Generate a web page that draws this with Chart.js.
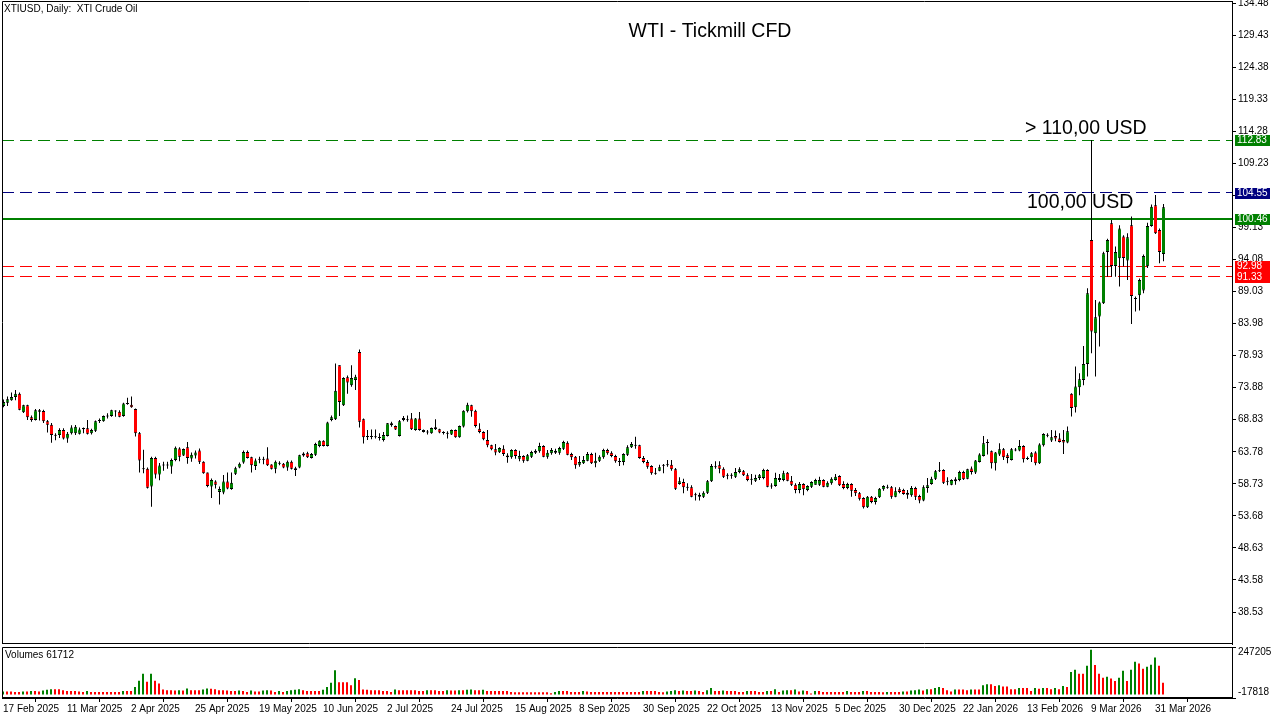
<!DOCTYPE html>
<html>
<head>
<meta charset="utf-8">
<script src="https://cdn.jsdelivr.net/npm/chart.js@4.4.1/dist/chart.umd.min.js"></script>
<style>
html, body { margin: 0; padding: 0; background: #fff; width: 1280px; height: 720px; overflow: hidden; }
#main { position: absolute; left: 0; top: 0; }
#vol { position: absolute; left: 0; top: 645px; }
</style>
</head>
<body>
<canvas id="main" width="1280" height="645"></canvas>
<canvas id="vol" width="1280" height="75"></canvas>
<script>
// XTIUSD daily candles, 17 Feb 2025 .. early Apr 2026 (one entry per bar)
var open = [71.0,71.5,71.9,72.4,72.9,70.0,71.1,69.2,68.8,70.1,
70.2,68.6,68.05,66.4,66.4,67.2,65.85,66.7,66.7,66.6,
67.4,67.5,66.7,67.1,68.7,68.6,69.4,69.4,70.2,70.1,
69.4,71.4,71.2,70.5,66.7,61.1,61.1,58.3,62.8,60.2,
61.65,61.65,61.45,62.5,64.3,63.2,64.5,62.7,63.2,63.96,
62.2,60.5,58.3,59.1,57.45,57.35,59.1,57.9,60.3,61.3,
62.1,63.75,62.9,61.55,62.6,62.6,62.7,61.76,61.1,61.97,
61.9,61.3,62.2,61.2,61.3,63.2,63.54,62.8,63.3,64.7,
65.5,64.7,68.8,68.9,77.4,71.1,75.5,74.25,75.1,79.5,
68.9,66.17,66.17,66.17,66.06,65.64,66.27,68.27,67.85,66.27,
68.8,68.8,69.0,67.22,69.0,67.22,66.9,66.7,67.64,67.32,
66.8,66.7,66.48,67.22,66.06,67.74,70.16,71.1,70.26,67.4,
66.9,65.64,64.8,64.17,63.7,64.27,63.2,62.9,64.06,62.69,
63.11,62.38,63.0,63.64,63.85,64.69,63.01,63.53,63.64,63.64,
64.27,65.21,63.43,63.01,61.75,61.96,62.38,63.43,61.96,62.38,
62.9,64.06,63.64,63.11,62.27,62.17,63.32,64.48,64.79,64.79,
62.8,62.17,61.54,60.38,60.8,61.64,61.75,61.75,61.01,58.7,
59.02,58.18,58.18,57.02,57.02,56.71,57.34,59.12,61.43,61.64,
61.12,60.07,60.07,59.86,60.59,60.7,60.07,59.44,59.22,59.65,
59.65,60.91,58.38,58.38,59.33,59.33,60.49,59.22,58.59,57.76,
58.7,57.76,58.28,58.59,58.59,59.33,58.28,58.8,59.33,59.96,
58.7,58.07,58.7,57.76,57.23,56.5,55.03,56.71,55.87,56.6,
57.86,58.17,58.17,56.71,57.86,57.76,57.02,56.92,58.07,56.81,
56.08,58.07,58.7,59.54,60.8,60.91,59.12,58.59,59.12,59.33,
60.59,59.54,61.13,60.5,62.18,63.12,65.22,63.86,61.97,63.33,
64.17,63.23,62.49,64.07,63.96,64.7,62.7,62.91,63.65,61.97,
64.8,66.38,65.54,66.27,65.85,65.64,65.22,72.9,70.8,73.95,
75.1,77.62,97.15,82.45,85.08,87.18,95.26,99.78,93.06,94.26,
97.68,93.9,99.46,87.91,88.44,89.17,93.0,99.36,102.61,98.73,94.95];

var high = [72.0,72.5,73.1,73.5,73.1,71.2,71.2,69.5,70.5,70.5,
70.4,68.8,68.3,66.7,67.5,67.5,66.9,67.95,68.0,67.6,
67.6,68.8,67.4,68.7,69.0,69.5,69.85,70.4,70.3,70.3,
71.5,72.3,72.5,70.6,66.9,64.1,61.3,63.0,63.0,62.0,
62.2,62.2,62.7,64.6,64.5,64.3,65.3,63.65,63.96,64.3,
62.3,60.5,59.55,59.3,58.3,60.1,60.5,60.5,61.4,62.1,
63.96,63.96,63.0,62.7,63.0,63.0,64.5,61.8,62.4,62.3,
62.0,62.4,62.4,61.4,63.3,63.7,63.8,63.6,65.2,65.6,
65.6,68.5,69.5,77.7,77.4,75.5,75.8,77.4,75.9,79.9,
69.0,67.2,67.3,67.3,66.7,66.9,68.3,68.5,67.9,68.8,
69.4,69.5,69.9,69.1,70.05,67.3,67.22,67.6,68.9,67.4,
67.0,67.0,67.3,67.3,67.9,70.3,71.5,71.2,70.4,68.27,
67.0,67.2,64.9,65.0,64.5,64.79,63.53,64.16,64.16,63.95,
63.22,63.43,63.95,64.16,65.21,64.79,64.06,64.37,64.27,64.58,
65.53,65.42,63.64,63.11,63.11,63.11,63.74,63.64,63.64,63.22,
64.27,64.27,63.85,63.32,62.8,63.53,64.79,65.32,66.16,64.9,
63.11,62.48,61.64,61.22,61.75,61.85,62.48,62.48,61.22,59.75,
59.54,58.81,58.49,57.34,57.34,57.55,59.33,61.85,62.27,62.27,
61.33,60.38,60.38,61.22,61.33,60.91,60.38,60.28,60.17,60.28,
61.12,61.01,58.8,60.49,60.28,60.8,60.59,59.96,58.8,59.01,
58.8,58.49,59.12,59.54,59.86,59.44,59.12,59.75,60.28,60.07,
59.12,58.91,58.8,58.07,57.44,56.6,56.81,56.81,56.71,58.07,
58.49,58.59,58.38,58.17,58.17,57.97,57.76,58.38,58.28,57.02,
58.49,59.65,59.86,60.91,62.17,61.01,59.75,59.44,59.75,60.8,
60.8,61.12,61.44,62.49,63.54,66.27,65.75,63.96,63.75,65.12,
64.38,63.54,64.38,64.38,65.64,64.8,63.02,63.75,63.86,65.12,
66.69,66.69,67.22,67.11,66.69,67.22,67.74,73.0,77.2,76.15,
80.46,89.54,112.9,87.7,87.44,95.31,97.36,100.3,96.1,99.46,
97.89,98.2,100.83,88.23,91.06,94.84,99.88,102.72,104.24,98.94,102.82];

var low = [70.8,71.0,71.8,71.9,70.3,69.9,68.8,68.5,68.7,68.7,
68.3,66.8,65.2,65.6,65.95,65.7,65.2,66.5,66.4,66.5,
66.7,66.5,66.5,66.9,68.3,68.5,69.0,69.3,69.3,69.2,
69.3,71.2,70.7,66.2,60.5,60.4,58.0,55.1,59.55,59.3,
60.8,61.1,60.3,62.3,62.3,63.1,61.9,62.2,62.7,61.86,
60.3,58.2,56.5,57.98,55.46,57.1,57.87,57.8,60.1,61.2,
61.9,62.7,60.5,60.9,61.97,61.8,61.55,61.0,60.4,61.65,
61.2,60.8,61.0,59.97,61.2,63.0,62.8,62.7,63.1,64.5,
64.6,64.6,68.6,68.8,69.4,71.0,72.9,74.04,73.5,67.6,
65.1,65.64,65.75,65.85,65.54,65.4,66.2,67.7,67.2,66.2,
68.6,68.5,67.2,67.1,67.1,66.8,66.5,66.6,67.2,66.7,
66.5,65.85,66.4,66.0,66.0,67.6,69.95,69.3,67.6,66.69,
65.6,64.49,64.0,63.23,63.6,63.11,62.06,62.69,62.69,62.27,
62.06,62.27,62.8,63.43,63.64,62.9,62.69,63.32,63.43,63.32,
64.06,63.22,62.48,61.12,61.43,61.85,62.27,61.85,61.33,62.17,
62.69,63.32,62.9,62.06,61.54,61.64,63.11,64.37,64.27,62.69,
61.96,61.12,60.17,60.17,60.7,60.38,61.43,60.8,57.76,58.6,
57.23,57.65,56.6,56.08,56.08,56.5,57.13,59.02,61.12,60.38,
59.65,59.44,59.54,59.65,60.38,59.96,59.12,58.59,59.01,59.33,
59.44,58.17,57.97,58.28,59.01,59.12,59.12,58.38,57.23,57.23,
56.92,57.55,58.07,58.59,58.38,58.17,58.17,58.59,59.22,58.38,
57.86,57.86,56.71,56.81,56.08,54.82,54.92,55.66,55.45,56.5,
57.65,57.97,56.39,56.6,57.23,57.02,56.39,56.71,56.18,55.66,
55.97,57.34,58.59,59.33,60.59,58.7,58.49,58.49,58.59,59.12,
59.33,59.44,60.18,60.29,62.07,63.02,63.33,61.13,60.81,63.12,
62.49,61.97,62.39,63.86,63.86,62.07,62.49,62.18,61.65,61.86,
64.59,66.06,65.33,65.43,65.22,63.44,65.12,69.33,69.96,72.69,
74.26,75.63,79.3,75.63,80.35,87.07,91.37,91.37,91.37,89.8,
92.95,90.85,83.92,85.86,86.02,88.75,92.74,99.25,98.1,93.48,93.79];

var close = [71.6,72.05,72.4,72.9,70.4,71.1,69.2,68.8,70.3,70.3,
68.6,68.05,66.4,66.35,67.2,65.85,66.6,67.6,67.7,67.3,
67.45,66.6,67.2,68.6,68.7,69.4,69.4,70.3,70.2,69.3,
71.4,71.4,70.8,66.7,62.4,61.1,58.1,62.8,60.2,61.6,
61.7,61.7,62.5,64.4,63.0,64.2,62.8,63.3,63.65,62.2,
60.4,58.4,59.34,58.6,57.9,59.1,57.98,58.9,61.2,61.9,
63.75,62.8,61.65,62.4,62.6,62.6,61.65,61.1,62.2,61.97,
61.3,62.2,61.1,60.9,63.23,63.5,62.9,63.44,65.0,65.5,
64.7,68.37,69.2,73.4,71.6,75.4,74.7,75.4,75.6,68.5,
66.06,66.17,66.17,66.1,66.0,66.4,68.27,67.95,67.3,68.58,
69.1,68.85,67.32,69.0,67.22,66.9,66.85,67.53,67.32,66.8,
66.8,66.7,67.22,66.06,67.85,70.26,71.2,70.16,67.85,66.9,
65.75,64.8,64.17,63.65,64.38,63.43,62.9,64.06,63.11,63.11,
62.38,63.22,63.74,63.95,64.69,63.01,63.64,64.06,63.95,64.37,
65.32,63.32,62.9,61.64,62.17,62.48,63.43,61.96,62.38,63.01,
64.06,63.53,63.11,62.27,62.22,63.43,64.48,65.0,64.79,62.8,
62.17,61.43,60.38,60.38,61.33,61.64,61.75,61.01,57.97,59.12,
58.18,58.18,56.71,57.02,56.71,57.34,59.12,61.54,61.43,61.12,
59.86,60.07,60.07,60.59,61.01,60.07,59.33,59.44,59.65,60.07,
60.91,58.28,58.38,59.65,59.65,60.38,59.22,58.59,57.76,58.7,
57.86,58.38,59.01,59.33,59.33,58.28,58.91,59.54,59.86,58.49,
58.07,58.7,57.65,57.23,56.39,55.03,56.71,55.87,56.5,57.97,
58.38,58.17,56.71,57.55,57.44,57.13,57.34,58.07,56.71,56.08,
58.17,58.49,59.54,60.7,60.8,58.91,59.12,59.33,59.44,60.59,
59.44,61.01,60.6,62.39,63.33,65.12,65.22,61.97,63.65,64.17,
62.91,62.81,64.17,64.07,64.7,62.6,62.7,63.54,61.97,64.91,
66.59,66.38,66.06,65.85,65.33,65.22,67.0,70.69,74.05,75.21,
77.62,88.75,82.71,84.97,87.28,95.05,97.15,93.06,95.26,98.94,
94.32,97.57,88.33,87.91,90.85,94.63,99.36,102.4,98.2,95.26,102.3];

// tick volume per bar, in thousands
var volumeK = [16,16,16,14,14,16,16,18,18,16,
21,25,28,28,28,23,19,18,18,16,
14,18,14,14,14,14,14,14,14,14,
18,18,18,39,72,108,67,108,72,57,
27,23,23,21,23,21,32,23,23,23,
27,32,30,28,23,23,21,19,19,21,
19,14,21,16,16,21,23,21,14,19,
14,18,23,25,28,23,18,18,18,18,
25,39,62,127,64,64,64,49,85,76,
27,25,23,23,23,19,19,14,27,23,
23,23,23,23,19,19,23,23,23,19,
19,23,21,21,23,23,25,27,23,23,
25,19,19,18,18,18,18,14,12,12,
12,12,12,12,12,12,12,7,14,18,
18,18,14,14,14,18,16,14,14,14,
14,14,14,14,14,14,14,14,14,14,
18,18,18,18,14,12,16,19,23,18,
21,19,18,21,18,14,23,34,18,18,
21,18,18,18,14,14,18,18,18,14,
14,18,18,28,14,21,23,23,27,16,
21,18,5,18,18,14,14,14,14,14,
14,18,14,14,14,19,18,14,14,14,
12,14,14,14,14,16,16,21,23,27,
21,28,28,34,39,34,23,16,27,27,
27,23,27,27,27,48,53,53,44,48,
42,42,28,28,34,34,34,18,34,30,
34,34,28,34,28,44,39,117,129,108,
108,150,233,154,108,87,92,83,71,87,
124,71,129,171,161,134,145,155,193,150,61.712];

var priceTicks = [38.53,43.58,48.63,53.68,58.73,63.78,68.83,73.88,78.93,83.98,
  89.03,94.08,99.13,104.18,109.23,114.28,119.33,124.38,129.43,134.48];
var volTicks = [-17818, 247205];
var dateTickBars = [0,16,32,48,64,80,96,112,128,144,160,176,192,208,224,240,256,272,288];
var dateLabels = ["17 Feb 2025","11 Mar 2025","2 Apr 2025","25 Apr 2025","19 May 2025",
  "10 Jun 2025","2 Jul 2025","24 Jul 2025","15 Aug 2025","8 Sep 2025","30 Sep 2025",
  "22 Oct 2025","13 Nov 2025","5 Dec 2025","30 Dec 2025","22 Jan 2026","13 Feb 2026",
  "9 Mar 2026","31 Mar 2026"];

// horizontal levels and their axis tags
var levels = [112.83, 104.55, 100.46, 92.98, 91.33];
var levelColors = ["#008000", "#000080", "#008000", "#ff0000", "#ff0000"];
var solidLevel = 100.46;

var GREEN = "#008000", RED = "#ff0000";
var FONT = "'Liberation Sans', Arial, sans-serif";
var xMin = -0.375, xMax = 307.125;
var yMin = 33.49, yMax = 134.80;

var idx = open.map(function(_, i){ return i; });

var wickData = idx.map(function(i){ return {x: i, y: [low[i], high[i]]}; });
var bodyData = idx.map(function(i){
  var a = open[i], b = close[i];
  if (Math.abs(a - b) < 0.16) { var m = (a + b) / 2; a = m - 0.08; b = m + 0.08; }
  return {x: i, y: [a, b]};
});
function bodyColor(ctx){
  var i = ctx.dataIndex;
  var d = close[i] - open[i];
  if (Math.abs(d) < 0.16) return "#000";
  return d > 0 ? GREEN : RED;
}
function levelIndex(ctx){
  return ctx.tick ? levels.indexOf(ctx.tick.value) : -1;
}

var frame = {
  id: "frame",
  afterDraw: function(chart){
    var c = chart.ctx, a = chart.chartArea;
    c.save();
    c.strokeStyle = "#000";
    c.lineWidth = 1;
    c.beginPath();
    c.moveTo(a.left + 0.5, a.bottom - 0.5);
    c.lineTo(a.left + 0.5, a.top + 0.5);
    c.lineTo(a.right, a.top + 0.5);
    c.moveTo(a.left, a.bottom - 0.5);
    c.lineTo(a.right, a.bottom - 0.5);
    c.stroke();
    c.restore();
  }
};

var mainTexts = {
  id: "mainTexts",
  afterDraw: function(chart){
    var c = chart.ctx, ys = chart.scales.y;
    c.save();
    c.fillStyle = "#000";
    c.textBaseline = "middle";
    c.textAlign = "left";
    c.font = "10px " + FONT;
    c.fillText("XTIUSD, Daily:  XTI Crude Oil", 4, 9);
    c.font = "19.5px " + FONT;
    c.textAlign = "center";
    c.fillText("WTI - Tickmill CFD", 710, 32);
    c.textAlign = "left";
    c.fillText("> 110,00 USD", 1025, 129);
    c.fillText("100,00 USD", 1027, 203);
    // price tags on the axis
    c.font = "10px " + FONT;
    levels.forEach(function(v, k){
      var y = Math.round(ys.getPixelForValue(v));
      c.fillStyle = levelColors[k];
      c.fillRect(1235, y - 5, 35, 11);
      c.fillStyle = "#fff";
      c.fillText(v.toFixed(2), 1237, y + 0.5);
    });
    c.restore();
  }
};

new Chart(document.getElementById("main"), {
  type: "bar",
  data: {
    datasets: [
      {
        data: bodyData,
        backgroundColor: bodyColor,
        borderColor: "#000",
        borderWidth: {top: 1, bottom: 1, left: 0, right: 0},
        borderSkipped: false,
        barThickness: 3,
        grouped: false,
        inflateAmount: 0,
        order: 1
      },
      {
        data: wickData,
        backgroundColor: "#000",
        borderWidth: 0,
        barThickness: 1,
        grouped: false,
        inflateAmount: 0,
        order: 2
      }
    ]
  },
  options: {
    responsive: false,
    animation: false,
    devicePixelRatio: 1,
    layout: {padding: {left: 2, top: 1, right: 0, bottom: 1}},
    plugins: {legend: {display: false}, tooltip: {enabled: false}},
    scales: {
      x: {type: "linear", min: xMin, max: xMax, offset: false, display: false},
      y: {
        position: "right",
        min: yMin,
        max: yMax,
        afterBuildTicks: function(s){ s.ticks = priceTicks.map(function(v){ return {value: v}; }); },
        afterFit: function(s){ s.width = 48; s.paddingTop = 0; s.paddingBottom = 0; },
        ticks: {
          autoSkip: false,
          color: "#000",
          padding: 2,
          font: {family: FONT, size: 10},
          callback: function(v){ return Number(v).toFixed(2); }
        },
        grid: {drawOnChartArea: false, tickLength: 4, color: "#000"},
        border: {color: "#000"}
      },
      // horizontal price levels drawn as grid lines of a silent axis
      lv: {
        type: "linear",
        position: "right",
        min: yMin,
        max: yMax,
        afterBuildTicks: function(s){ s.ticks = levels.map(function(v){ return {value: v}; }); },
        afterFit: function(s){ s.width = 0; s.paddingTop = 0; s.paddingBottom = 0; },
        ticks: {display: false, autoSkip: false},
        grid: {
          drawOnChartArea: true,
          drawTicks: false,
          color: function(ctx){ var k = levelIndex(ctx); return k < 0 ? "rgba(0,0,0,0)" : levelColors[k]; },
          lineWidth: function(ctx){ return ctx.tick && ctx.tick.value === solidLevel ? 2 : 1; }
        },
        border: {
          display: false,
          dash: function(ctx){ return ctx.tick && ctx.tick.value === solidLevel ? [] : [12, 6]; }
        }
      }
    }
  },
  plugins: [frame, mainTexts]
});

var volTexts = {
  id: "volTexts",
  afterDraw: function(chart){
    var c = chart.ctx;
    c.save();
    c.fillStyle = "#000";
    c.textBaseline = "middle";
    c.font = "10px " + FONT;
    c.fillText("Volumes " + Math.round(volumeK[volumeK.length - 1] * 1000), 5, 10);
    // scale labels sit just inside the panel edges
    c.fillText(String(volTicks[1]), 1238, 7);
    c.fillText(String(volTicks[0]), 1238, 47);
    c.restore();
  }
};

new Chart(document.getElementById("vol"), {
  type: "bar",
  data: {
    datasets: [{
      data: idx.map(function(i){ return {x: i, y: volumeK[i] * 1000}; }),
      backgroundColor: function(ctx){
        var i = ctx.dataIndex;
        return (i == 0 || volumeK[i] > volumeK[i - 1]) ? GREEN : RED;
      },
      borderWidth: 0,
      barThickness: 2,
      grouped: false,
      inflateAmount: 0
    }]
  },
  options: {
    responsive: false,
    animation: false,
    devicePixelRatio: 1,
    layout: {padding: {left: 2, top: 2, right: 0, bottom: 0}},
    plugins: {legend: {display: false}, tooltip: {enabled: false}},
    scales: {
      x: {
        type: "linear", min: xMin + 0.125, max: xMax + 0.125, offset: false,
        afterBuildTicks: function(s){ s.ticks = dateTickBars.map(function(v){ return {value: v}; }); },
        afterFit: function(s){ s.height = 22; s.paddingLeft = 0; s.paddingRight = 0; },
        ticks: {
          autoSkip: false, maxRotation: 0, minRotation: 0, align: "start", padding: 1,
          color: "#000", font: {family: FONT, size: 10},
          callback: function(v, k){ return dateLabels[k]; }
        },
        grid: {drawOnChartArea: false, tickLength: 4, color: "#000"},
        border: {color: "#000"}
      },
      y: {
        position: "right",
        min: -17818,
        max: 247205,
        afterBuildTicks: function(s){ s.ticks = volTicks.map(function(v){ return {value: v}; }); },
        afterFit: function(s){ s.width = 48; s.paddingTop = 0; s.paddingBottom = 0; },
        ticks: {display: false},
        grid: {drawOnChartArea: false, tickLength: 4, color: "#000"},
        border: {color: "#000"}
      }
    }
  },
  plugins: [frame, volTexts]
});
</script>
</body>
</html>
